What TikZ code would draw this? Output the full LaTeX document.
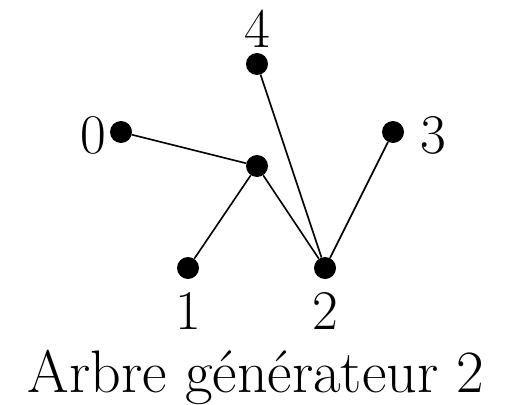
\documentclass[tikz,border=0pt]{standalone}
\usepackage{tikz}
\usetikzlibrary{positioning}

\begin{document}
\begin{tikzpicture}[
    x=1pt, y=-1pt,
    dot/.style={circle, fill, inner sep=0pt, minimum size=22pt},
    lbl/.style={inner sep=0pt, font=\fontsize{56}{60}\selectfont},
    edge/.style={line width=1.6pt},
  ]
  \useasboundingbox (0,0) rectangle (508,404);
  % Vertices
  \node[dot] (v4) at (257,64)  {};
  \node[dot] (v0) at (121,132) {};
  \node[dot] (v3) at (393,132) {};
  \node[dot] (vc) at (257,166) {};
  \node[dot] (v1) at (188,268) {};
  \node[dot] (v2) at (325,268) {};
  % Labels
  \node[lbl] (l4) at (257,29)  {4};
  \node[lbl] (l0) at (93,135)  {0};
  \node[lbl] (l3) at (433,135) {3};
  \node[lbl] (l1) at (188,311) {1};
  \node[lbl] (l2) at (325,311) {2};
  \node[lbl, font=\fontsize{60}{64}\selectfont, anchor=base] (cap) at (256,392) {Arbre g\'en\'erateur 2};

  \draw[edge] (v0) -- (vc);
  \draw[edge] (vc) -- (v1);
  \draw[edge] (vc) -- (v2);
  \draw[edge] (v4) -- (v2);
  \draw[edge] (v3) -- (v2);
\end{tikzpicture}
\end{document}
